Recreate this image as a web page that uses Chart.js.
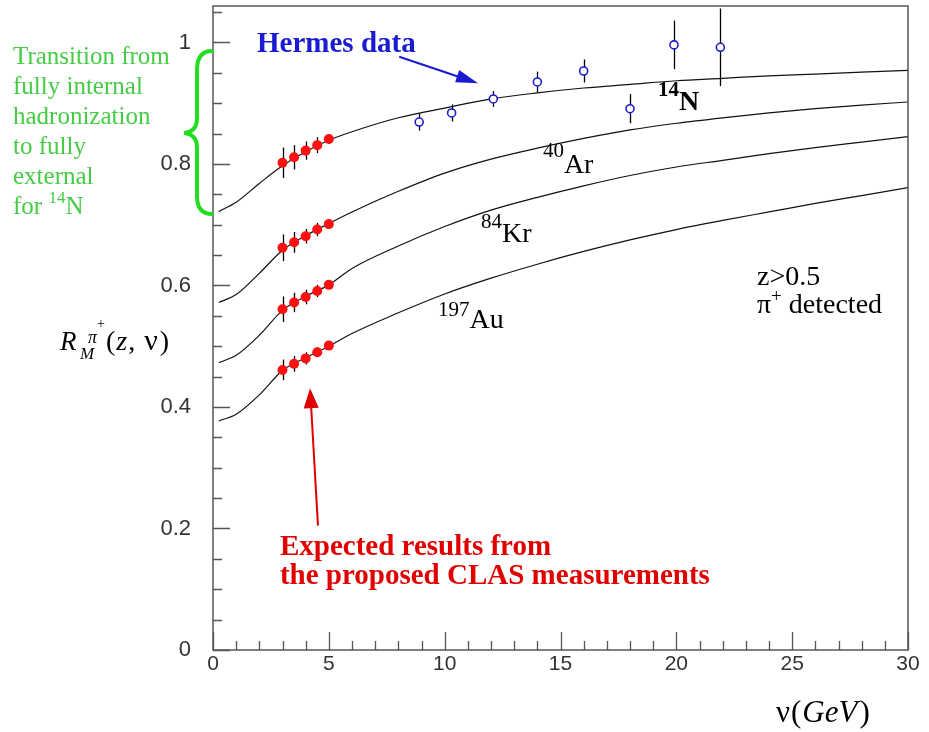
<!DOCTYPE html>
<html><head><meta charset="utf-8">
<script src="https://cdn.jsdelivr.net/npm/chart.js@4"></script>
<style>html,body{margin:0;padding:0;background:#fff;overflow:hidden}canvas{display:block}</style>
</head><body>
<canvas id="c" width="929" height="732"></canvas>
<script>
// ---------- data ----------
const nuCurve = [0.25, 1, 2, 3, 4, 5, 6, 8, 10, 12, 14, 16, 18, 20, 22, 24, 26, 28, 30];
const curveN  = [0.722, 0.737, 0.768, 0.797, 0.820, 0.839, 0.853, 0.876, 0.892, 0.907, 0.917, 0.925, 0.931, 0.937, 0.941, 0.945, 0.948, 0.951, 0.954];
const curveAr = [0.572, 0.585, 0.620, 0.658, 0.682, 0.702, 0.721, 0.755, 0.785, 0.808, 0.826, 0.842, 0.856, 0.867, 0.876, 0.884, 0.891, 0.897, 0.902];
const curveKr = [0.473, 0.485, 0.518, 0.559, 0.582, 0.601, 0.628, 0.665, 0.697, 0.724, 0.745, 0.764, 0.781, 0.795, 0.806, 0.817, 0.827, 0.836, 0.845];
const curveAu = [0.377, 0.388, 0.420, 0.460, 0.481, 0.500, 0.521, 0.555, 0.586, 0.612, 0.635, 0.656, 0.675, 0.692, 0.707, 0.721, 0.735, 0.748, 0.761];

const clasNu   = [3, 3.5, 4, 4.5, 5];
const clasN    = [0.802, 0.811, 0.822, 0.831, 0.841];
const clasNErr = [0.025, 0.020, 0.015, 0.013, 0.008];
const clasAr    = [0.662, 0.671, 0.681, 0.692, 0.701];
const clasArErr = [0.022, 0.017, 0.012, 0.011, 0.007];
const clasKr    = [0.561, 0.572, 0.581, 0.591, 0.601];
const clasKrErr = [0.021, 0.016, 0.012, 0.010, 0.007];
const clasAu    = [0.461, 0.471, 0.480, 0.490, 0.501];
const clasAuErr = [0.017, 0.013, 0.010, 0.008, 0.006];

const hermesNu  = [8.9, 10.3, 12.1, 14.0, 16.0, 18.0, 19.9, 21.9];
const hermesR   = [0.869, 0.884, 0.907, 0.935, 0.953, 0.891, 0.996, 0.992];
const hermesErr = [0.014, 0.014, 0.013, 0.017, 0.019, 0.024, 0.040, 0.064];

const xTickValues = [0, 5, 10, 15, 20, 25, 30];
const xTickLabels = ['0', '5', '10', '15', '20', '25', '30'];
const yTickValues = [0, 0.2, 0.4, 0.6, 0.8, 1];
const yTickLabels = ['0', '0.2', '0.4', '0.6', '0.8', '1'];
const xMinor = []; for (let i = 0; i <= 30; i++) xMinor.push(i);
const yMinor = []; for (let i = 0; i <= 21; i++) yMinor.push(i * 0.05);

// ---------- helpers ----------
const pts = (xs, ys) => xs.map((x, i) => ({x: x, y: ys[i]}));
const SERIF = '"Liberation Serif","DejaVu Serif",serif';

function curveDs(ys) {
  return {data: pts(nuCurve, ys), showLine: true, borderColor: '#111', borderWidth: 1.2,
    pointRadius: 0, cubicInterpolationMode: 'monotone', fill: false, order: 3};
}
function clasDs(ys) {
  return {data: pts(clasNu, ys), showLine: false, pointRadius: 5, pointHoverRadius: 5,
    backgroundColor: '#ff1010', borderColor: '#ff1010', borderWidth: 0, order: 1};
}
const errorSets = [
  {nu: clasNu, val: clasN, err: clasNErr},
  {nu: clasNu, val: clasAr, err: clasArErr},
  {nu: clasNu, val: clasKr, err: clasKrErr},
  {nu: clasNu, val: clasAu, err: clasAuErr},
  {nu: hermesNu, val: hermesR, err: hermesErr}
];

const errPlugin = {
  id: 'errbars',
  beforeDatasetsDraw(chart) {
    const {ctx, scales: {x, y}} = chart;
    ctx.save(); ctx.strokeStyle = '#000'; ctx.lineWidth = 1.3;
    errorSets.forEach(s => s.nu.forEach((v, i) => {
      const px = Math.round(x.getPixelForValue(v)) + 0.5;
      ctx.beginPath();
      ctx.moveTo(px, y.getPixelForValue(s.val[i] - s.err[i]));
      ctx.lineTo(px, y.getPixelForValue(s.val[i] + s.err[i]));
      ctx.stroke();
    }));
    ctx.restore();
  }
};

const framePlugin = {
  id: 'frame',
  afterDraw(chart) {
    const {ctx, chartArea: a, scales: {x, y}} = chart;
    ctx.save();
    ctx.strokeStyle = '#555'; ctx.lineWidth = 1.5;
    ctx.strokeRect(a.left, a.top, a.right - a.left, a.bottom - a.top);
    ctx.lineWidth = 1.3;
    ctx.beginPath();
    xMinor.forEach(v => {
      const px = Math.round(x.getPixelForValue(v)) + 0.5;
      const len = (v % 5 === 0) ? 18 : 9;
      ctx.moveTo(px, a.bottom); ctx.lineTo(px, a.bottom - len);
    });
    yMinor.forEach((v, i) => {
      const py = Math.round(y.getPixelForValue(v)) + 0.5;
      const len = (i % 4 === 0) ? 17 : 9;
      ctx.moveTo(a.left, py); ctx.lineTo(a.left + len, py);
    });
    ctx.stroke();
    ctx.restore();
  }
};

function seg(ctx, s, x, y, font, color) {
  ctx.font = font; ctx.fillStyle = color; ctx.textAlign = 'left'; ctx.textBaseline = 'alphabetic';
  ctx.fillText(s, x, y); return x + ctx.measureText(s).width;
}
function arrow(ctx, x1, y1, x2, y2, color, lw, hl, hw) {
  const ang = Math.atan2(y2 - y1, x2 - x1);
  const bx = x2 - hl * Math.cos(ang), by = y2 - hl * Math.sin(ang);
  ctx.save(); ctx.strokeStyle = color; ctx.fillStyle = color; ctx.lineWidth = lw;
  ctx.beginPath(); ctx.moveTo(x1, y1); ctx.lineTo(bx, by); ctx.stroke();
  ctx.beginPath(); ctx.moveTo(x2, y2);
  ctx.lineTo(bx + hw / 2 * Math.sin(ang), by - hw / 2 * Math.cos(ang));
  ctx.lineTo(bx - hw / 2 * Math.sin(ang), by + hw / 2 * Math.cos(ang));
  ctx.closePath(); ctx.fill(); ctx.restore();
}

// nucleus labels: [superscript, symbol, nu, R (baseline), sup raise, bold]
const nucLabels = [
  ['14', 'N', 19.21, 0.888, 14, true],
  ['40', 'Ar', 14.24, 0.785, 16, false],
  ['84', 'Kr', 11.57, 0.672, 14, false],
  ['197', 'Au', 9.71, 0.530, 12, false]
];

const annotPlugin = {
  id: 'annot',
  afterDraw(chart) {
    const {ctx, scales: {x, y}} = chart;
    const X = v => x.getPixelForValue(v), Y = v => y.getPixelForValue(v);
    ctx.save();
    // Green transition text
    const g = '#44cc44';
    const gf = '25px ' + SERIF;
    seg(ctx, 'Transition from', 13, 64, gf, g);
    seg(ctx, 'fully internal', 13, 94, gf, g);
    seg(ctx, 'hadronization', 13, 124, gf, g);
    seg(ctx, 'to fully', 13, 154, gf, g);
    seg(ctx, 'external', 13, 184, gf, g);
    let cx = seg(ctx, 'for ', 13, 214, gf, g);
    cx = seg(ctx, '14', cx, 203, '17px ' + SERIF, g);
    seg(ctx, 'N', cx, 214, gf, g);
    // brace
    ctx.strokeStyle = '#22dd22'; ctx.lineWidth = 4; ctx.lineCap = 'round';
    ctx.beginPath();
    ctx.moveTo(212, 51);
    ctx.quadraticCurveTo(197, 51, 197, 70);
    ctx.lineTo(197, 118);
    ctx.quadraticCurveTo(197, 132, 184, 133);
    ctx.quadraticCurveTo(197, 134, 197, 148);
    ctx.lineTo(197, 196);
    ctx.quadraticCurveTo(197, 214, 212, 214);
    ctx.stroke();

    // Hermes data
    seg(ctx, 'Hermes data', X(1.90), Y(0.984), 'bold 29px ' + SERIF, '#1a1ad0');
    arrow(ctx, X(8.07), Y(0.976), X(11.44), Y(0.933), '#1a1ad0', 2, 22, 13);

    // nucleus labels
    nucLabels.forEach(l => {
      const fw = l[5] ? 'bold ' : '';
      let px = seg(ctx, l[0], X(l[2]), Y(l[3]) - l[4], fw + '21px ' + SERIF, '#000');
      seg(ctx, l[1], px, Y(l[3]), fw + '28px ' + SERIF, '#000');
    });

    // z>0.5 / pi+ detected
    seg(ctx, 'z>0.5', X(23.48), Y(0.601), '28px ' + SERIF, '#000');
    let px = seg(ctx, 'π', X(23.48), Y(0.555), '28px ' + SERIF, '#000');
    px = seg(ctx, '+', px, Y(0.555) - 11, '19px ' + SERIF, '#000');
    seg(ctx, ' detected', px, Y(0.555), '28px ' + SERIF, '#000');

    // Expected results
    const rf = 'bold 29px ' + SERIF;
    seg(ctx, 'Expected results from', X(2.89), Y(0.156), rf, '#e00000');
    seg(ctx, 'the proposed CLAS measurements', X(2.89), Y(0.109), rf, '#e00000');
    arrow(ctx, X(4.53), Y(0.206), X(4.19), Y(0.431), '#e00000', 2, 20, 15);

    // Y axis title  R_M^{pi+}(z, nu)
    const yt = '#000';
    seg(ctx, 'R', 60, 350, 'italic 27px ' + SERIF, yt);
    seg(ctx, 'M', 80, 359, 'italic 17px ' + SERIF, yt);
    seg(ctx, 'π', 88, 343, 'italic 18px ' + SERIF, yt);
    seg(ctx, '+', 97, 328, '14px ' + SERIF, yt);
    let tx = seg(ctx, '(', 106, 350, '28px ' + SERIF, yt);
    tx = seg(ctx, 'z', tx + 1, 350, 'italic 28px ' + SERIF, yt);
    tx = seg(ctx, ', ', tx + 1, 350, '28px ' + SERIF, yt);
    tx = seg(ctx, 'ν', tx + 2, 350, '30px ' + SERIF, yt);
    seg(ctx, ')', tx + 2, 350, '28px ' + SERIF, yt);

    // X axis title  nu(GeV)
    let xx = seg(ctx, 'ν', 776, 722, '31px ' + SERIF, yt);
    xx = seg(ctx, '(', xx + 1, 722, '31px ' + SERIF, yt);
    xx = seg(ctx, 'GeV', xx + 1, 722, 'italic 31px ' + SERIF, yt);
    seg(ctx, ')', xx + 2, 722, '31px ' + SERIF, yt);
    ctx.restore();
  }
};

new Chart(document.getElementById('c').getContext('2d'), {
  type: 'scatter',
  data: {
    datasets: [
      curveDs(curveN), curveDs(curveAr), curveDs(curveKr), curveDs(curveAu),
      clasDs(clasN), clasDs(clasAr), clasDs(clasKr), clasDs(clasAu),
      {data: pts(hermesNu, hermesR), showLine: false, pointRadius: 4, pointHoverRadius: 4,
       backgroundColor: '#fff', borderColor: '#1a1ad0', borderWidth: 1.6, order: 0}
    ]
  },
  options: {
    responsive: false, animation: false, devicePixelRatio: 1,
    layout: {padding: {left: 0, top: 6, right: 21, bottom: 0}},
    plugins: {legend: {display: false}, tooltip: {enabled: false}},
    events: [],
    scales: {
      x: {
        type: 'linear', min: 0, max: 30,
        afterFit: s => { s.height = 82; s.paddingLeft = 0; s.paddingRight = 0; },
        afterBuildTicks: s => { s.ticks = xTickValues.map(v => ({value: v})); },
        ticks: {callback: (v, i) => xTickLabels[i], font: {family: '"Liberation Sans"', size: 21},
                color: '#333', padding: 2, maxRotation: 0, autoSkip: false},
        grid: {display: false, drawTicks: false}, border: {display: false}
      },
      y: {
        type: 'linear', min: 0, max: 1.06,
        afterFit: s => { s.width = 213; s.paddingTop = 0; s.paddingBottom = 0; },
        afterBuildTicks: s => { s.ticks = yTickValues.map(v => ({value: v})); },
        ticks: {callback: (v, i) => yTickLabels[i], font: {family: '"Liberation Sans"', size: 22},
                color: '#333', padding: 22, autoSkip: false},
        grid: {display: false, drawTicks: false}, border: {display: false}
      }
    }
  },
  plugins: [errPlugin, framePlugin, annotPlugin]
});
</script>
</body></html>
